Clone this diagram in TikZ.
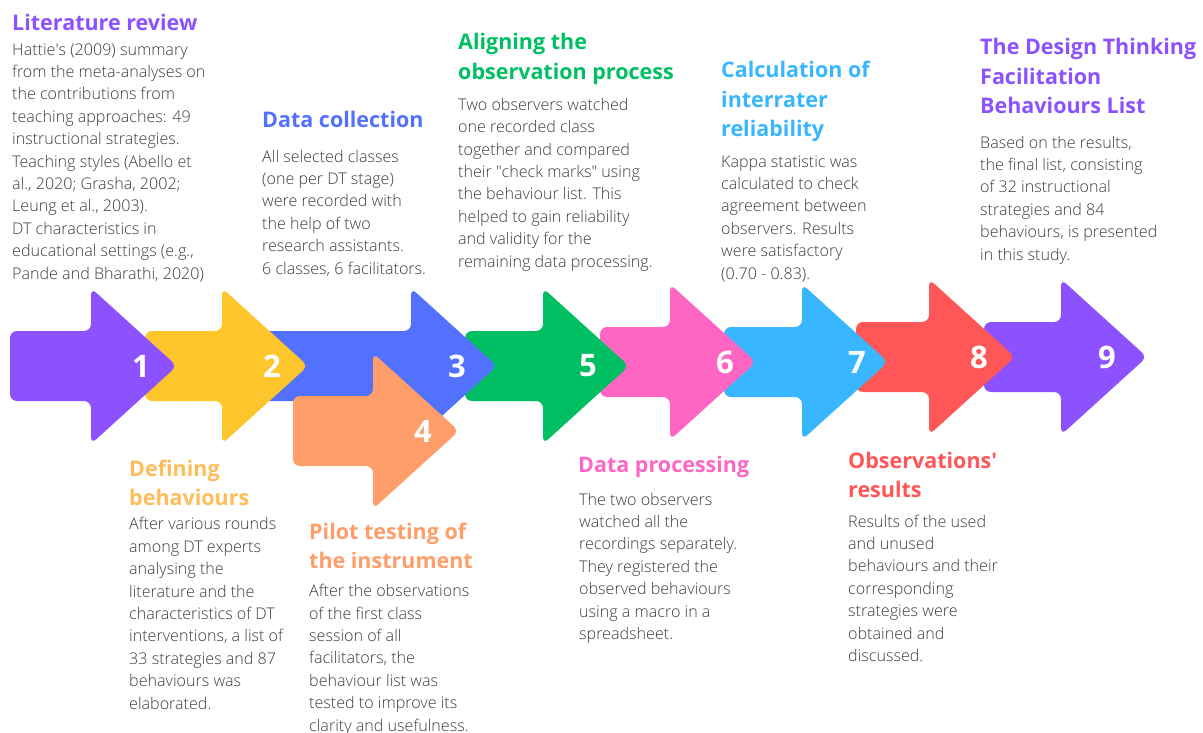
\documentclass[tikz,border=0pt]{standalone}
\usepackage{fontspec}
\setmainfont{Open Sans}
\newfontfamily\lightfont{Open Sans Light}
\usepackage{tikz}
\usetikzlibrary{calc}
\definecolor{step-purple}{RGB}{140,82,255}
\definecolor{step-yellow}{RGB}{255,197,44}
\definecolor{step-blue}{RGB}{82,113,255}
\definecolor{step-orange}{RGB}{255,158,106}
\definecolor{step-green}{RGB}{0,191,99}
\definecolor{step-pink}{RGB}{255,102,196}
\definecolor{step-sky}{RGB}{56,182,255}
\definecolor{step-red}{RGB}{255,87,87}
\definecolor{title-gold}{RGB}{255,189,89}
\definecolor{body-grey}{RGB}{60,60,60}
\tikzstyle{stagenum}=[text=white,inner sep=0pt,font=\fontsize{31}{31}\selectfont\bfseries]
% texts are placed at the baseline of their last line
\tikzstyle{stagetitle}=[anchor=base west,inner sep=0pt,align=left,font=\fontsize{21.5}{29.5}\selectfont\bfseries]
\tikzstyle{stagetext}=[anchor=base west,inner sep=0pt,align=left,text=body-grey,font=\fontsize{16.1}{22.4}\selectfont\lightfont]
% colour, body left, head left, middle, name, number, number shift
\newcommand{\stageArrow}[7]{
	\fill[rounded corners=7pt, #1] (#2,#4-35) -- (#3,#4-35) -- (#3,#4-78) -- (#3+86,#4) -- (#3,#4+78) -- (#3,#4+35) -- (#2,#4+35) -- cycle;
	\node[stagenum] (#5) at (#3+50+#7,#4) {#6};
}

\begin{document}
\begin{tikzpicture}[x=1pt,y=-1pt]
	\useasboundingbox (0,0) rectangle (1203,733);
	% arrows, last one first
	\stageArrow{step-purple}{984}{1061}{357}{num9}{9}{-4}
	\stageArrow{step-red}{856}{929}{357}{num8}{8}{0}
	\stageArrow{step-sky}{724}{802}{362}{num7}{7}{5}
	\stageArrow{step-pink}{600}{670}{362}{num6}{6}{5}
	\stageArrow{step-green}{465}{543}{366}{num5}{5}{-5}
	\stageArrow{step-blue}{255}{411}{366}{num3}{3}{-4}
	\stageArrow{step-orange}{293}{373}{431}{num4}{4}{0}
	\stageArrow{step-yellow}{145}{222}{366}{num2}{2}{0}
	\stageArrow{step-purple}{10}{91}{366}{num1}{1}{0}
	% texts above
	\node[stagetitle,text=step-purple] (lit-title) at (12,31) {Literature review};
	\node[stagetext] (lit-text) at (12,279) {Hattie\textquotesingle s (2009) summary\\from the meta-analyses on\\the contributions from\\teaching approaches: 49\\instructional strategies.\\Teaching styles (Abello et\\al., 2020; Grasha, 2002;\\Leung et al., 2003).\\DT characteristics in\\educational settings (e.g.,\\Pande and Bharathi, 2020)};
	\node[stagetitle,text=step-blue] (col-title) at (262,128) {Data collection};
	\node[stagetext] (col-text) at (262,274) {All selected classes\\(one per DT stage)\\were recorded with\\the help of two\\research assistants.\\6 classes, 6 facilitators.};
	\node[stagetitle,text=step-green] (ali-title) at (458,79.5) {Aligning the\\observation process};
	\node[stagetext] (ali-text) at (458,267) {Two observers watched\\one recorded class\\together and compared\\their \textquotedbl check marks\textquotedbl{} using\\the behaviour list. This\\helped to gain reliability\\and validity for the\\remaining data processing.};
	\node[stagetitle,text=step-sky] (cal-title) at (721,137) {Calculation of\\interrater\\reliability};
	\node[stagetext] (cal-text) at (721,279) {Kappa statistic was\\calculated to check\\agreement between\\observers. Results\\were satisfactory\\(0.70 - 0.83).};
	\node[stagetitle,text=step-purple] (dtl-title) at (980,114) {The Design Thinking\\Facilitation\\Behaviours List};
	\node[stagetext] (dtl-text) at (980,260) {Based on the results,\\the final list, consisting\\of 32 instructional\\strategies and 84\\behaviours, is presented\\in this study.};
	% texts below
	\node[stagetitle,text=title-gold] (def-title) at (129,505.5) {Defining\\behaviours};
	\node[stagetext] (def-text) at (129,709) {After various rounds\\among DT experts\\analysing the\\literature  and the\\characteristics of DT\\interventions, a list of\\33 strategies and 87\\behaviours was\\elaborated.};
	\node[stagetitle,text=step-orange] (pil-title) at (309,568.5) {Pilot testing of\\the instrument};
	\node[stagetext] (pil-text) at (309,731) {After the observations\\of the first class\\session of all\\facilitators, the\\behaviour list was\\tested to improve its\\clarity and usefulness.};
	\node[stagetitle,text=step-pink] (pro-title) at (578,472) {Data processing};
	\node[stagetext] (pro-text) at (579,639.4) {The two observers\\watched all the\\recordings separately.\\They registered the\\observed behaviours\\using a macro in a\\spreadsheet.};
	\node[stagetitle,text=step-red] (obs-title) at (848,497.5) {Observations\textquotesingle\\results};
	\node[stagetext] (obs-text) at (848,661.4) {Results of the used\\and unused\\behaviours and their\\corresponding\\strategies were\\obtained and\\discussed.};
\end{tikzpicture}
\end{document}
